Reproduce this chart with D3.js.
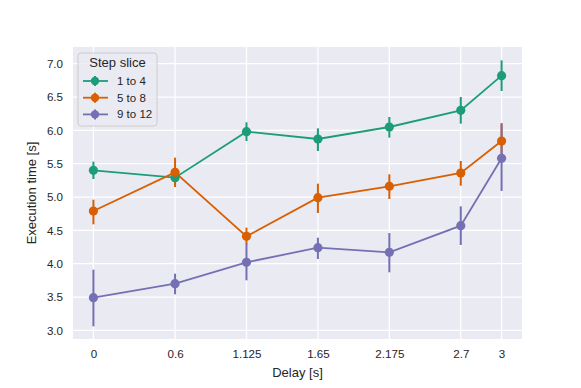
<!DOCTYPE html>
<html>
<head>
<meta charset="utf-8">
<script src="https://cdn.jsdelivr.net/npm/d3@7"></script>
<style>
  body { margin: 0; background: #fff; }
  svg text { font-family: "Liberation Sans", Arial, sans-serif !important; fill: #262626; }
</style>
</head>
<body>
<svg width="581" height="388"></svg>
<script>
// delays on the x axis
var delays = [0, 0.6, 1.125, 1.65, 2.175, 2.7, 3];
var tickLabels = ["0", "0.6", "1.125", "1.65", "2.175", "2.7", "3"];
var yTicks = [3.0, 3.5, 4.0, 4.5, 5.0, 5.5, 6.0, 6.5, 7.0];

var seriesNames = ["1 to 4", "5 to 8", "9 to 12"];
var seriesColors = ["#1b9e77", "#d95f02", "#7570b3"];

// mean execution time per delay
var slice1 = [5.40, 5.29, 5.98, 5.87, 6.05, 6.30, 6.82];
var slice2 = [4.79, 5.37, 4.41, 4.99, 5.16, 5.36, 5.84];
var slice3 = [3.49, 3.70, 4.02, 4.24, 4.17, 4.57, 5.58];

// error bar lows / highs
var slice1Lo = [5.27, 5.16, 5.84, 5.69, 5.89, 6.10, 6.59];
var slice1Hi = [5.53, 5.43, 6.12, 6.03, 6.20, 6.50, 7.05];
var slice2Lo = [4.59, 5.15, 4.29, 4.76, 4.97, 5.17, 5.58];
var slice2Hi = [4.96, 5.59, 4.54, 5.20, 5.34, 5.54, 6.11];
var slice3Lo = [3.06, 3.54, 3.75, 4.07, 3.87, 4.28, 5.09];
var slice3Hi = [3.91, 3.85, 4.30, 4.39, 4.46, 4.86, 6.09];

var means = [slice1, slice2, slice3];
var lows = [slice1Lo, slice2Lo, slice3Lo];
var highs = [slice1Hi, slice2Hi, slice3Hi];

var margin = {top: 47, right: 59, bottom: 49, left: 73},
    width = 581 - margin.left - margin.right,
    height = 388 - margin.top - margin.bottom;

var x = d3.scaleLinear().domain([-0.15, 3.15]).range([0, width]);
var y = d3.scaleLinear().domain([2.87, 7.25]).range([height, 0]);

var svg = d3.select("svg")
  .append("g")
  .attr("transform", "translate(" + margin.left + "," + margin.top + ")");

// background
svg.append("rect")
  .attr("width", width)
  .attr("height", height)
  .attr("fill", "#eaeaf2");

// grid
svg.selectAll(".vgrid").data(delays).enter().append("line")
  .attr("x1", d => x(d)).attr("x2", d => x(d))
  .attr("y1", 0).attr("y2", height)
  .attr("stroke", "#fff").attr("stroke-width", 1.25);
svg.selectAll(".hgrid").data(yTicks).enter().append("line")
  .attr("x1", 0).attr("x2", width)
  .attr("y1", d => y(d)).attr("y2", d => y(d))
  .attr("stroke", "#fff").attr("stroke-width", 1.25);

// axes
var xAxis = svg.append("g")
  .attr("transform", "translate(0," + height + ")")
  .call(d3.axisBottom(x).tickValues(delays).tickFormat((d, i) => tickLabels[i]).tickSize(0).tickPadding(11));
var yAxis = svg.append("g")
  .call(d3.axisLeft(y).tickValues(yTicks).tickFormat(d3.format(".1f")).tickSize(0).tickPadding(10));
[xAxis, yAxis].forEach(function(a) {
  a.select(".domain").remove();
  a.selectAll("text").style("font-size", "11.6px");
});

// axis labels
svg.append("text")
  .attr("x", width / 2).attr("y", height + 38)
  .attr("text-anchor", "middle")
  .style("font-size", "13px")
  .text("Delay [s]");
svg.append("text")
  .attr("transform", "translate(-37," + (height / 2) + ") rotate(-90)")
  .attr("text-anchor", "middle")
  .style("font-size", "13px")
  .text("Execution time [s]");

var line = d3.line()
  .x(d => x(d[0]))
  .y(d => y(d[1]));

// lines and error bars first
means.forEach(function(vals, s) {
  var pts = delays.map((d, i) => [d, vals[i]]);
  svg.append("path")
    .datum(pts)
    .attr("fill", "none")
    .attr("stroke", seriesColors[s])
    .attr("stroke-width", 1.8)
    .attr("d", line);
  svg.selectAll(".err" + s).data(delays).enter().append("line")
    .attr("x1", d => x(d)).attr("x2", d => x(d))
    .attr("y1", (d, i) => y(lows[s][i]))
    .attr("y2", (d, i) => y(highs[s][i]))
    .attr("stroke", seriesColors[s])
    .attr("stroke-width", 2);
});

// points on top
means.forEach(function(vals, s) {
  svg.selectAll(".pt" + s).data(delays).enter().append("circle")
    .attr("cx", d => x(d))
    .attr("cy", (d, i) => y(vals[i]))
    .attr("r", 4.6)
    .attr("fill", seriesColors[s]);
});

// legend
var lg = svg.append("g").attr("transform", "translate(5,6)");
lg.append("rect")
  .attr("width", 79).attr("height", 73).attr("rx", 3)
  .attr("fill", "#eaeaf2").attr("fill-opacity", 0.8)
  .attr("stroke", "#cccccc").attr("stroke-width", 1);
lg.append("text")
  .attr("x", 39.5).attr("y", 14)
  .attr("text-anchor", "middle")
  .style("font-size", "13px")
  .text("Step slice");
seriesNames.forEach(function(name, s) {
  var yy = 28 + s * 16.7;
  lg.append("line")
    .attr("x1", 5).attr("x2", 30).attr("y1", yy).attr("y2", yy)
    .attr("stroke", seriesColors[s]).attr("stroke-width", 1.8);
  lg.append("line")
    .attr("x1", 17).attr("x2", 17).attr("y1", yy - 5).attr("y2", yy + 5)
    .attr("stroke", seriesColors[s]).attr("stroke-width", 2);
  lg.append("circle")
    .attr("cx", 17).attr("cy", yy).attr("r", 4.2)
    .attr("fill", seriesColors[s]);
  lg.append("text")
    .attr("x", 39).attr("y", yy + 4)
    .style("font-size", "11.5px")
    .text(name);
});
</script>
</body>
</html>
